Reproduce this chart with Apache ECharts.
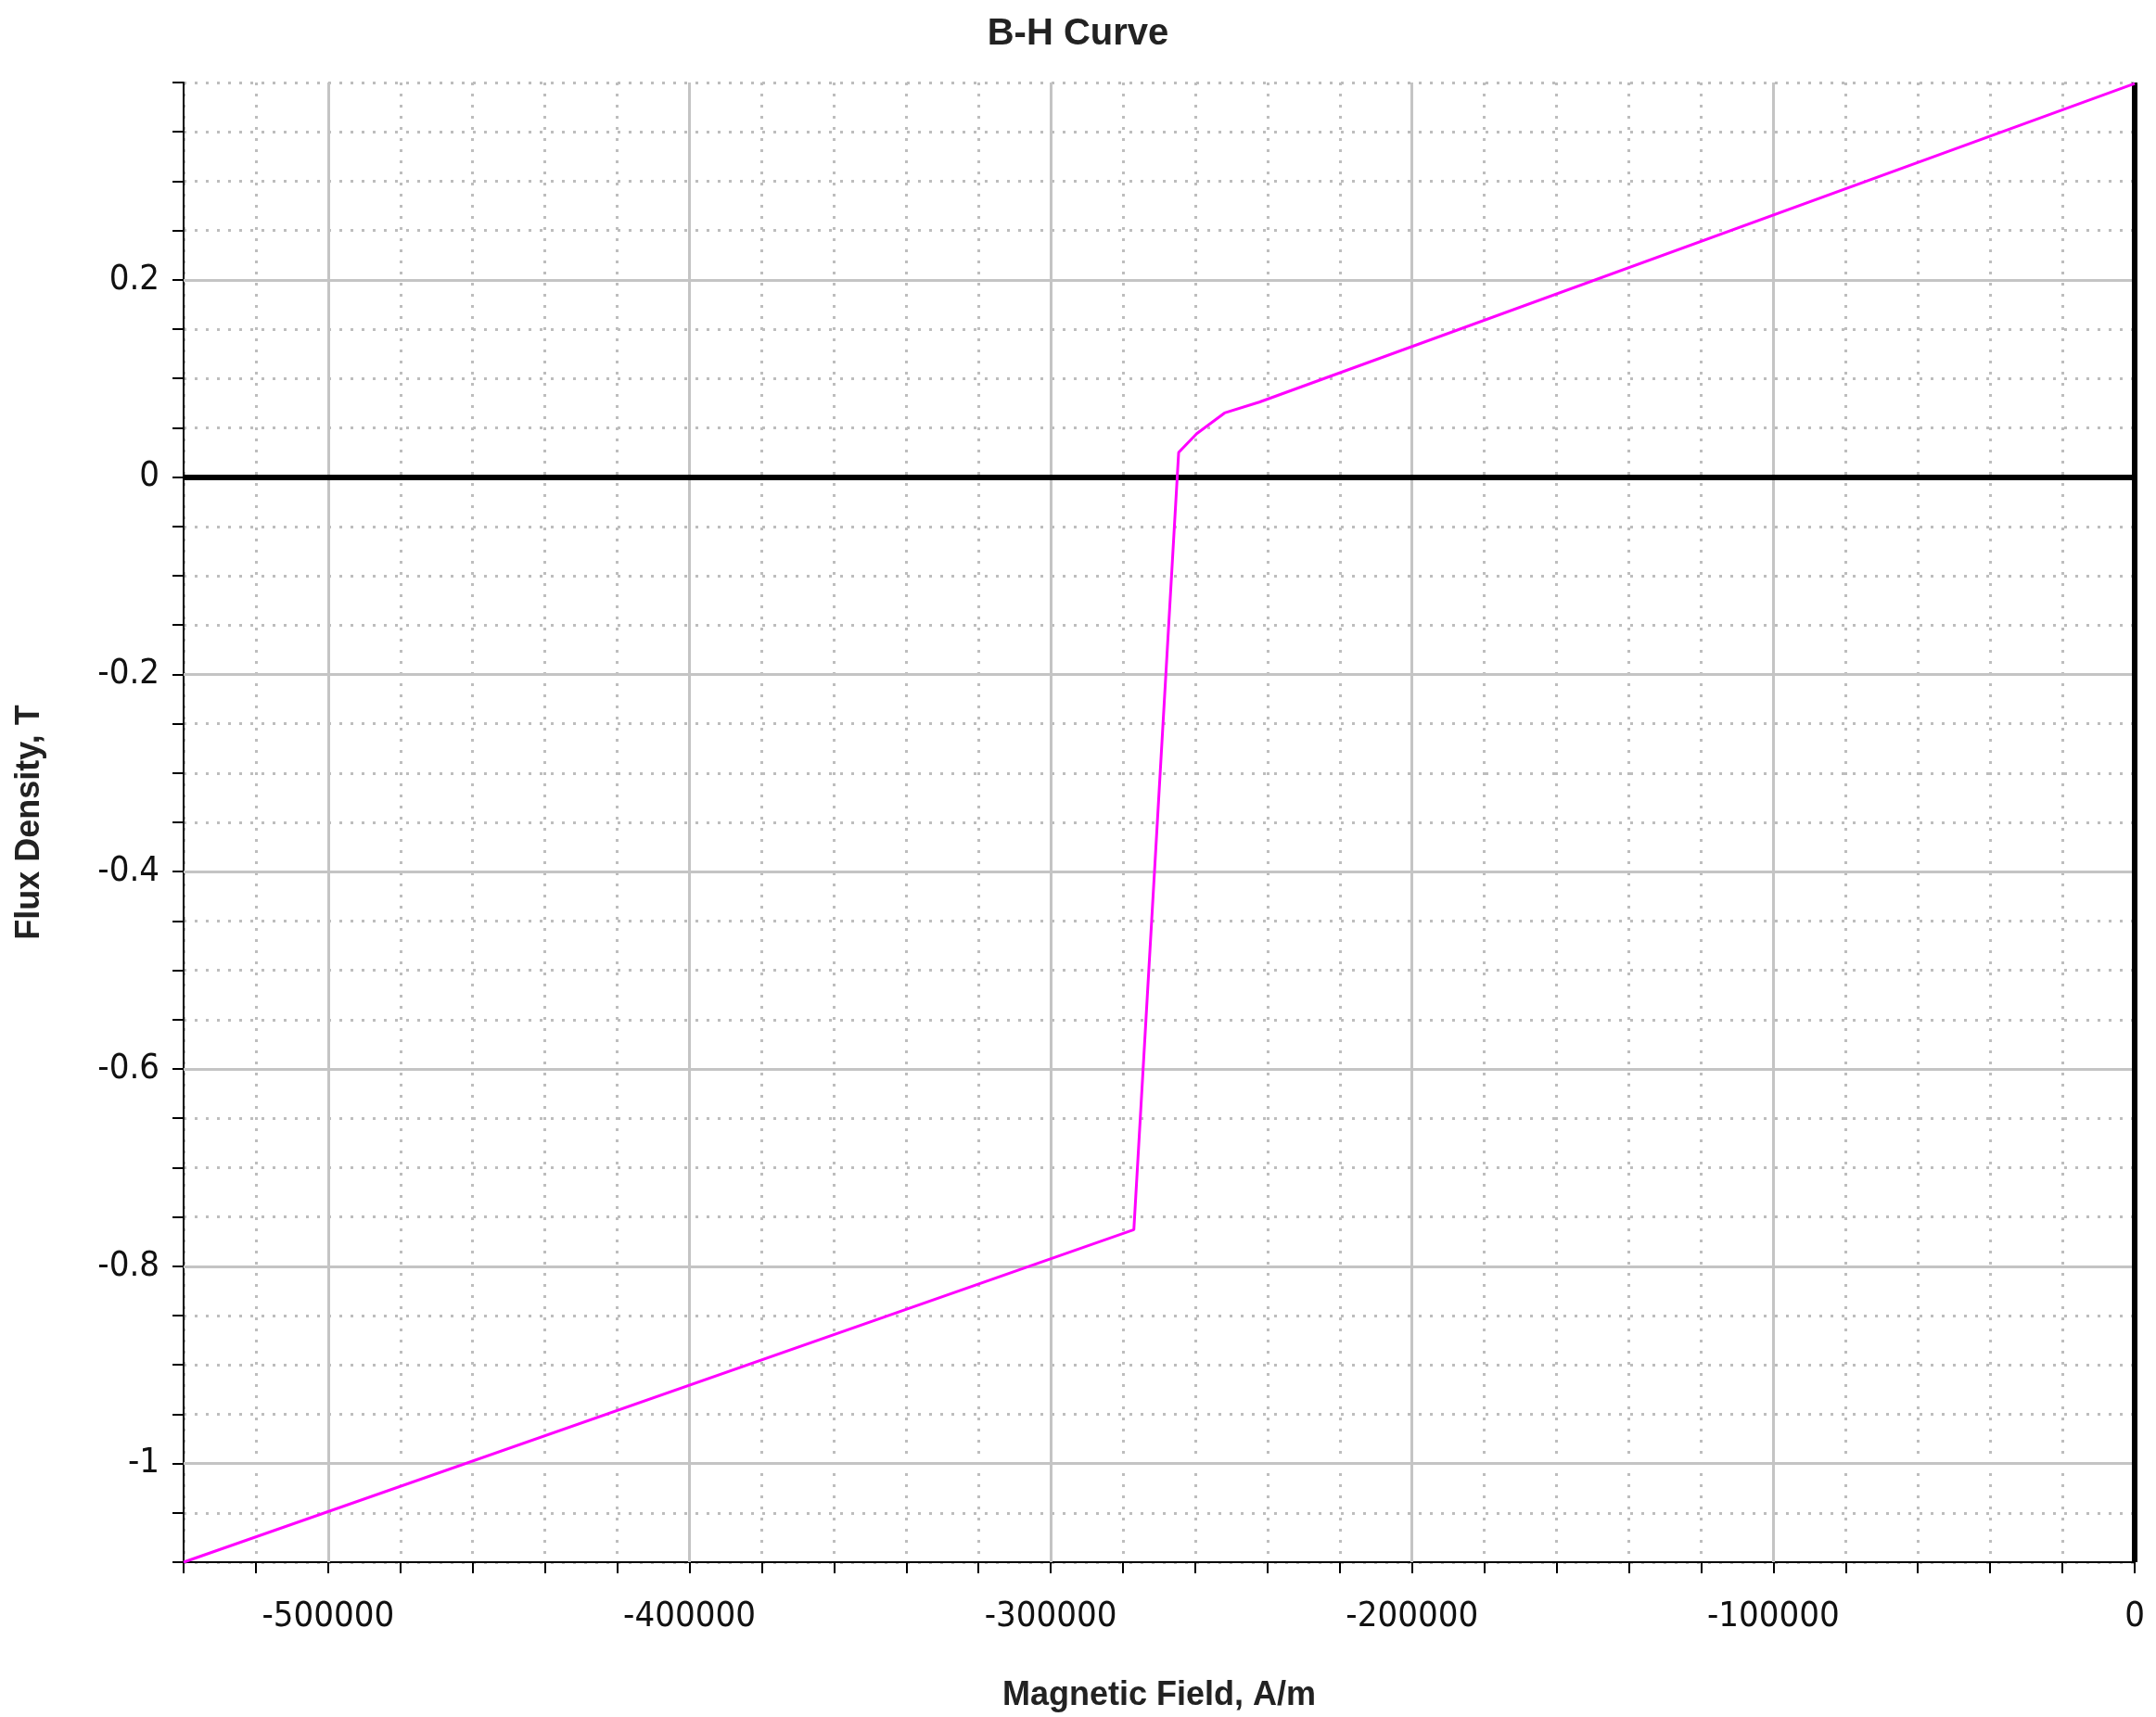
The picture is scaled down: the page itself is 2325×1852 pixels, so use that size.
<!DOCTYPE html>
<html><head><meta charset="utf-8">
<script src="https://cdn.jsdelivr.net/npm/echarts@6/dist/echarts.min.js"></script>
<style>html,body{margin:0;background:#fff}#c{width:2325px;height:1852px}</style>
</head><body><div id="c"></div>
<script>
const H = [-540000, -277000, -264600, -259600, -251900, -242300, 0];
const B = [-1.10, -0.763, 0.025, 0.044, 0.065, 0.076, 0.399];
const xMajor = [-500000, -400000, -300000, -200000, -100000];
const yMajor = [-1, -0.8, -0.6, -0.4, -0.2, 0.2];
const ch = echarts.init(document.getElementById('c'));
const lab = {fontFamily:'Liberation Sans Narrow, DejaVu Sans Condensed, sans-serif', fontSize:38, color:'#111'};
ch.setOption({
  animation:false,
  title:{text:'B-H Curve',left:'center',top:12,textStyle:{fontFamily:'Liberation Sans, Arial',fontWeight:'bold',fontSize:40,color:'#222'}},
  grid:{left:198,right:23,top:89,bottom:161},
  xAxis:{type:'value',min:-540000,max:0,interval:20000,
    name:'Magnetic Field, A/m',nameLocation:'middle',nameGap:126,
    nameTextStyle:{fontFamily:'Liberation Sans, Arial',fontWeight:'bold',fontSize:36,color:'#222'},
    axisLine:{onZero:false,lineStyle:{color:'#000',width:2}},
    axisTick:{length:12,lineStyle:{color:'#000',width:2}},
    axisLabel:Object.assign({margin:40,formatter:v=>(Math.abs(v%100000)<1?String(v):'')},lab),
    splitLine:{lineStyle:{color:'#bdbdbd',type:[3,9],width:3}}},
  yAxis:{type:'value',min:-1.1,max:0.4,interval:0.05,
    name:'Flux Density, T',nameLocation:'middle',nameGap:148,
    nameTextStyle:{fontFamily:'Liberation Sans, Arial',fontWeight:'bold',fontSize:36,color:'#222'},
    axisLine:{onZero:false,lineStyle:{color:'#000',width:2}},
    axisTick:{length:12,lineStyle:{color:'#000',width:2}},
    axisLabel:Object.assign({margin:26,formatter:v=>{const r=v/0.2;return (v<0.35&&Math.abs(r-Math.round(r))<1e-6)?String(Math.round(r)*2/10):'';}},lab),
    splitLine:{lineStyle:{color:'#bdbdbd',type:[3,9],width:3}}},
  series:[
    {type:'line',data:[],silent:true,
     markLine:{silent:true,symbol:'none',label:{show:false},animation:false,
       lineStyle:{color:'#c4c4c4',type:'solid',width:3},
       data:xMajor.map(v=>({xAxis:v})).concat(yMajor.map(v=>({yAxis:v})))}},
    {type:'line',data:[],silent:true,
     markLine:{silent:true,symbol:'none',label:{show:false},animation:false,
       lineStyle:{color:'#000',type:'solid',width:6},
       data:[{yAxis:0},{xAxis:0}]}},
    {type:'line',data:H.map((h,i)=>[h,B[i]]),showSymbol:false,z:5,
     lineStyle:{color:'#ff00ff',width:3}}
  ]
});
</script></body></html>
